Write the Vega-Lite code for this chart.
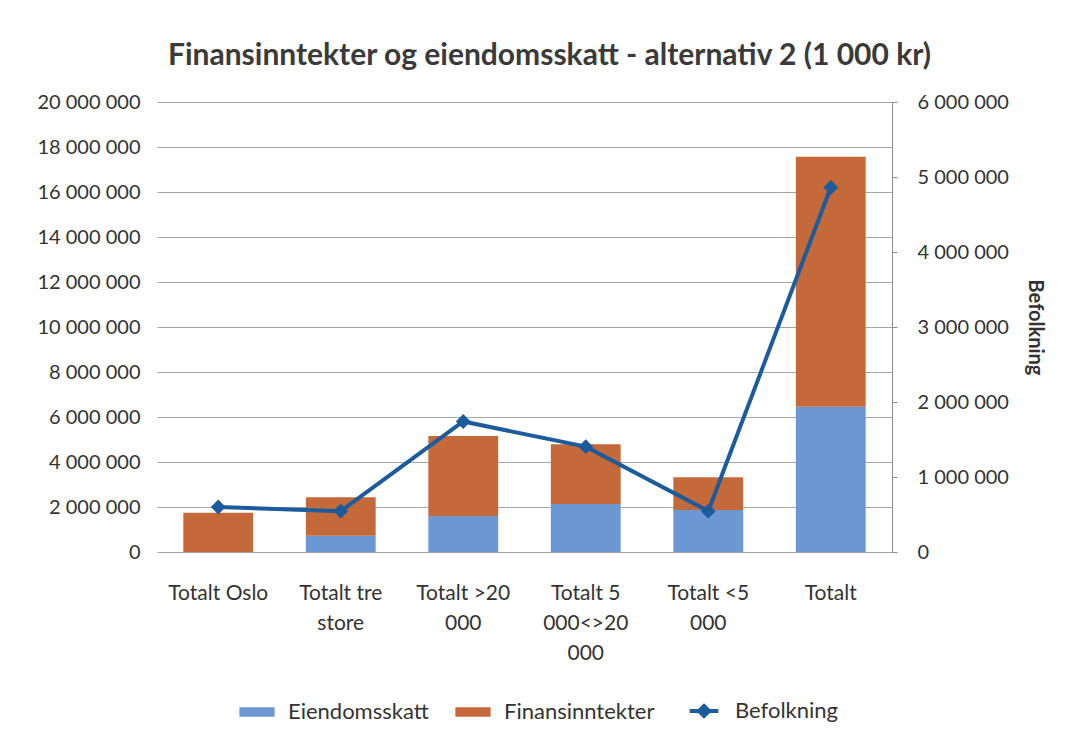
{
  "$schema": "https://vega.github.io/schema/vega-lite/v6.json",
  "width": 735,
  "height": 450,
  "autosize": {"type": "none"},
  "padding": {"left": 157, "top": 102, "right": 179, "bottom": 191},
  "background": "white",
  "title": {
    "text": "Finansinntekter og eiendomsskatt - alternativ 2 (1 000 kr)",
    "font": "Lato",
    "fontSize": 30,
    "fontWeight": "bold",
    "color": "#3a3a3a",
    "anchor": "middle",
    "frame": "group",
    "dx": 25,
    "offset": 21
  },
  "datasets": {
    "bars": [
      {"kategori": "Totalt Oslo", "serie": "Eiendomsskatt", "verdi": 0},
      {"kategori": "Totalt Oslo", "serie": "Finansinntekter", "verdi": 1750000},
      {"kategori": "Totalt tre store", "serie": "Eiendomsskatt", "verdi": 720000},
      {"kategori": "Totalt tre store", "serie": "Finansinntekter", "verdi": 1710000},
      {"kategori": "Totalt >20 000", "serie": "Eiendomsskatt", "verdi": 1600000},
      {"kategori": "Totalt >20 000", "serie": "Finansinntekter", "verdi": 3560000},
      {"kategori": "Totalt 5 000<>20 000", "serie": "Eiendomsskatt", "verdi": 2130000},
      {"kategori": "Totalt 5 000<>20 000", "serie": "Finansinntekter", "verdi": 2660000},
      {"kategori": "Totalt <5 000", "serie": "Eiendomsskatt", "verdi": 1870000},
      {"kategori": "Totalt <5 000", "serie": "Finansinntekter", "verdi": 1450000},
      {"kategori": "Totalt", "serie": "Eiendomsskatt", "verdi": 6460000},
      {"kategori": "Totalt", "serie": "Finansinntekter", "verdi": 11110000}
    ],
    "linje": [
      {"kategori": "Totalt Oslo", "serie": "Befolkning", "befolkning": 600000},
      {"kategori": "Totalt tre store", "serie": "Befolkning", "befolkning": 545000},
      {"kategori": "Totalt >20 000", "serie": "Befolkning", "befolkning": 1740000},
      {"kategori": "Totalt 5 000<>20 000", "serie": "Befolkning", "befolkning": 1405000},
      {"kategori": "Totalt <5 000", "serie": "Befolkning", "befolkning": 545000},
      {"kategori": "Totalt", "serie": "Befolkning", "befolkning": 4860000}
    ]
  },
  "encoding": {
    "x": {
      "field": "kategori",
      "type": "nominal",
      "sort": ["Totalt Oslo", "Totalt tre store", "Totalt >20 000", "Totalt 5 000<>20 000", "Totalt <5 000", "Totalt"],
      "scale": {"paddingInner": 0.43, "paddingOuter": 0.215},
      "axis": {
        "title": null,
        "labelAngle": 0,
        "domain": false,
        "ticks": false,
        "labelPadding": 30,
        "labelFont": "Lato",
        "labelFontSize": 21,
        "labelColor": "#333333",
        "labelLineHeight": 30,
        "labelExpr": "datum.value === 'Totalt tre store' ? ['Totalt tre', 'store'] : datum.value === 'Totalt >20 000' ? ['Totalt >20', '000'] : datum.value === 'Totalt 5 000<>20 000' ? ['Totalt 5', '000<>20', '000'] : datum.value === 'Totalt <5 000' ? ['Totalt <5', '000'] : datum.value"
      }
    },
    "color": {
      "field": "serie",
      "type": "nominal",
      "scale": {
        "domain": ["Eiendomsskatt", "Finansinntekter", "Befolkning"],
        "range": ["#6b97d2", "#c4693a", "#1c5b9c"]
      },
      "legend": {
        "title": null,
        "orient": "none",
        "legendX": 89,
        "legendY": 598,
        "direction": "horizontal",
        "labelFont": "Lato",
        "labelFontSize": 22,
        "labelColor": "#333333",
        "symbolSize": 1600,
        "columnPadding": 26,
        "labelOffset": 20,
        "encode": {
          "symbols": {
            "update": {
              "shape": {"signal": "datum.value === 'Befolkning' ? 'M-0.72,0L-0.25,0M0.25,0L0.72,0M0,-0.25L0.25,0L0,0.25L-0.25,0Z' : 'M-0.88,-0.24L0.88,-0.24L0.88,0.24L-0.88,0.24Z'"},
              "fill": {"signal": "scale('color', datum.value)"},
              "stroke": {"signal": "scale('color', datum.value)"},
              "strokeWidth": {"signal": "datum.value === 'Befolkning' ? 4 : 0"},
              "opacity": {"value": 1},
              "fillOpacity": {"value": 1},
              "strokeOpacity": {"value": 1}
            }
          }
        }
      }
    }
  },
  "layer": [
    {
      "data": {"name": "bars"},
      "mark": {"type": "bar"},
      "encoding": {
        "y": {
          "field": "verdi",
          "type": "quantitative",
          "stack": "zero",
          "scale": {"domain": [0, 20000000], "nice": false},
          "axis": {
            "orient": "left",
            "title": null,
            "values": [0, 2000000, 4000000, 6000000, 8000000, 10000000, 12000000, 14000000, 16000000, 18000000, 20000000],
            "format": ",d",
            "grid": true,
            "gridColor": "#a6a6a6",
            "gridWidth": 1,
            "domain": false,
            "ticks": false,
            "labelPadding": 17,
            "labelFont": "Lato",
            "labelFontSize": 20,
            "labelColor": "#333333"
          }
        },
        "order": {"field": "serie", "sort": "ascending"}
      }
    },
    {
      "data": {"name": "linje"},
      "mark": {"type": "line", "strokeWidth": 4, "point": {"shape": "diamond", "size": 220, "filled": true, "opacity": 1}},
      "encoding": {
        "y": {
          "field": "befolkning",
          "type": "quantitative",
          "scale": {"domain": [0, 6000000], "nice": false},
          "axis": {
            "orient": "right",
            "title": "Befolkning",
            "titleFont": "Lato",
            "titleFontSize": 20,
            "titleFontWeight": "bold",
            "titleColor": "#333333",
            "titlePadding": 16,
            "values": [0, 1000000, 2000000, 3000000, 4000000, 5000000, 6000000],
            "format": ",d",
            "grid": false,
            "domain": true,
            "domainColor": "#8c8c8c",
            "ticks": true,
            "tickColor": "#8c8c8c",
            "tickSize": 5,
            "labelPadding": 20,
            "labelFont": "Lato",
            "labelFontSize": 20,
            "labelColor": "#333333"
          }
        }
      }
    }
  ],
  "resolve": {"scale": {"y": "independent"}},
  "config": {
    "view": {"stroke": null},
    "locale": {
      "number": {"decimal": ",", "thousands": " ", "grouping": [3], "currency": ["", " kr"]}
    }
  }
}
